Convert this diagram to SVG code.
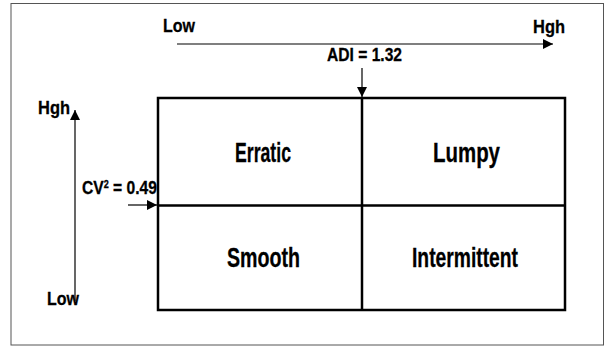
<svg xmlns="http://www.w3.org/2000/svg" width="606" height="347" viewBox="0 0 606 347">
<style>
.t{font-family:"Liberation Sans",Arial,sans-serif;font-weight:bold;fill:#000;stroke:#000;stroke-width:0.3;}
.ax{font-size:19px;}
.cl{font-size:27px;}
.ar{stroke:#000;stroke-width:1.2;fill:none;}
.grid{stroke:#000;stroke-width:2.5;fill:none;}
</style>
<defs>
<marker id="ah" viewBox="0 0 10 10" refX="10" refY="5" markerWidth="10" markerHeight="10" markerUnits="userSpaceOnUse" orient="auto">
<path d="M0,0 L10,5 L0,10 Z" fill="#000"/>
</marker>
</defs>
<rect x="11" y="3.5" width="592.5" height="341.5" fill="#fff" stroke="#555" stroke-width="1"/>
<g id="connectors">
<line class="ar" x1="177" y1="44" x2="553" y2="44" marker-end="url(#ah)"/>
<line class="ar" x1="362" y1="68" x2="362" y2="97" marker-end="url(#ah)"/>
<line class="ar" x1="75" y1="301" x2="75" y2="110" marker-end="url(#ah)"/>
<line class="ar" x1="128" y1="205" x2="157" y2="205" marker-end="url(#ah)"/>
</g>
<g id="axis-labels">
<text class="t ax" x="163" y="32" textLength="32" lengthAdjust="spacingAndGlyphs">Low</text>
<text class="t ax" x="533" y="33" textLength="32" lengthAdjust="spacingAndGlyphs">Hgh</text>
<text class="t ax" x="327" y="61" textLength="75" lengthAdjust="spacingAndGlyphs">ADI = 1.32</text>
<text class="t ax" x="38" y="114" textLength="32" lengthAdjust="spacingAndGlyphs">Hgh</text>
<text class="t ax" x="47" y="305" textLength="32" lengthAdjust="spacingAndGlyphs">Low</text>
<text class="t ax" x="82" y="194" textLength="75" lengthAdjust="spacingAndGlyphs">CV<tspan font-size="11" baseline-shift="55%">2</tspan> = 0.49</text>
</g>
<g id="grid">
<rect class="grid" x="158" y="98" width="407" height="212"/>
<line class="grid" x1="362" y1="98" x2="362" y2="310"/>
<line class="grid" x1="158" y1="205.5" x2="565" y2="205.5"/>
</g>
<g id="erratic"><text class="t cl" x="235" y="162" textLength="56" lengthAdjust="spacingAndGlyphs">Erratic</text></g>
<g id="lumpy"><text class="t cl" x="433" y="162" textLength="67" lengthAdjust="spacingAndGlyphs">Lumpy</text></g>
<g id="smooth"><text class="t cl" x="227" y="267" textLength="73" lengthAdjust="spacingAndGlyphs">Smooth</text></g>
<g id="intermittent"><text class="t cl" x="412" y="267" textLength="106" lengthAdjust="spacingAndGlyphs">Intermittent</text></g>
</svg>
